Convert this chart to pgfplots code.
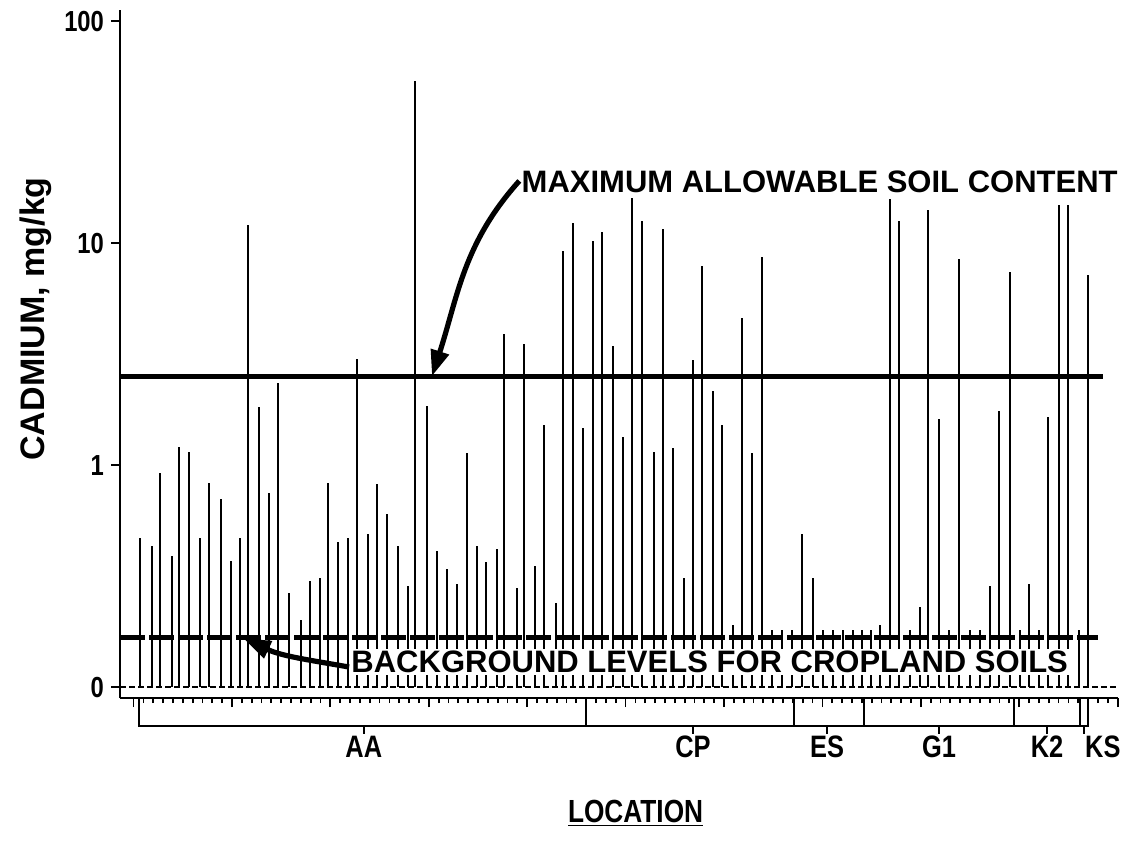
\documentclass[border=0pt]{standalone}
\usepackage{fontspec}
\setmainfont{Liberation Sans}
\newfontfamily\condensed{Liberation Sans}[FakeStretch=0.82]
\usepackage{pgfplots}
\pgfplotsset{compat=1.18}
\usepackage{pgfplotstable}
\usetikzlibrary{arrows.meta,calc}

% sample position (x) and cadmium concentration in mg/kg (v)
\pgfplotstableread{
x v
0.65 0.47
1.87 0.43
2.68 0.92
3.90 0.39
4.61 1.2
5.63 1.14
6.75 0.47
7.66 0.83
8.88 0.70
9.90 0.37
10.81 0.47
11.63 12.0
12.74 1.82
13.76 0.75
14.67 2.34
15.79 0.265
17.01 0.20
17.93 0.30
18.94 0.31
19.76 0.83
20.77 0.45
21.79 0.47
22.70 3.0
23.82 0.49
24.74 0.82
25.75 0.60
26.87 0.43
27.89 0.285
28.60 54
29.82 1.85
30.83 0.41
31.85 0.34
32.87 0.29
33.88 1.13
34.90 0.43
35.81 0.366
36.93 0.42
37.64 3.89
38.96 0.28
39.67 3.51
40.79 0.35
41.71 1.51
42.93 0.24
43.64 9.2
44.66 12.3
45.67 1.47
46.69 10.2
47.60 11.2
48.72 3.44
49.74 1.34
50.65 15.9
51.67 12.6
52.89 1.14
53.80 11.6
54.82 1.19
55.93 0.31
56.85 2.97
57.76 7.9
58.88 2.15
59.80 1.51
60.91 0.19
61.83 4.6
62.85 1.13
63.86 8.7
64.88 0.18
65.89 0.18
66.91 0.18
67.93 0.49
69.05 0.31
70.06 0.18
71.08 0.18
72.10 0.18
73.11 0.18
74.03 0.18
74.94 0.18
75.85 0.19
76.87 15.8
77.79 12.6
78.90 0.18
79.92 0.23
80.73 14.1
81.85 1.61
82.87 0.18
83.88 8.5
85.00 0.18
86.02 0.18
87.03 0.285
87.95 1.75
89.07 7.4
90.08 0.18
91.00 0.29
92.01 0.18
92.93 1.65
94.05 14.8
94.96 14.8
96.08 0.18
96.99 7.2
}\needles

\begin{document}
\begin{tikzpicture}
\useasboundingbox (0,0) rectangle (564.5pt,421.5pt);
\begin{axis}[
  at={(60pt,72.5pt)}, anchor=south west,
  scale only axis, width=499pt, height=344pt,
  xmin=-1.38, xmax=100.04, ymin=-0.0495, ymax=3.05,
  axis x line*=bottom, axis y line*=left,
  axis line style={line width=1pt},
  xtick={0,10,...,100}, minor x tick num=9, xticklabels={},
  ytick={0,1,2,3}, yticklabels={0,1,10,100},
  minor y tick num=0,
  tick align=outside, major tick length=4.5pt, minor tick length=2.5pt,
  every tick/.style={black, line width=0.9pt},
  yticklabel style={font=\condensed\bfseries\fontsize{14.5}{14.5}\selectfont},
  clip=false,
]
% needles: log10(value)+1, so 0.1 mg/kg sits on the comb origin
\addplot[ycomb, black, line width=0.85pt] table[x=x, y expr={log10(\thisrow{v})+1}] {\needles};

% baseline (0.1 mg/kg)
\addplot[black, line width=0.8pt, dash pattern=on 3pt off 1.5pt] coordinates {(-1.38,0) (100,0)};
% maximum allowable soil content (2.5 mg/kg -> log10 = 0.398)
\addplot[black, line width=2.4pt] coordinates {(-1.38,1.398) (98.5,1.398)};
% background levels for cropland soils (0.167 mg/kg -> log10 = -0.777)
\addplot[black, line width=2.2pt, dash pattern=on 12.5pt off 2pt] coordinates {(-1.38,0.2225) (98.0,0.2225)};

% annotations
\node[anchor=west, inner sep=1pt, fill=white, font=\bfseries\fontsize{15.5}{15.5}\selectfont] at (axis cs:39.2,2.275) {MAXIMUM ALLOWABLE SOIL CONTENT};
\draw[line width=2.6pt, -{Triangle[length=13pt,width=9pt]}] (axis cs:39.2,2.28) to[out=228,in=72] (axis cs:30.32,1.40);

\node[anchor=west, inner sep=1pt, fill=white, font=\bfseries\fontsize{15.5}{15.5}\selectfont] at (axis cs:21.9,0.113) {BACKGROUND LEVELS FOR CROPLAND SOILS};
\draw[line width=2.6pt, -{Triangle[length=14pt,width=9pt]}] (axis cs:21.9,0.09) to[out=170,in=-25] (axis cs:11.1,0.221);

% location brackets
\draw[line width=1pt] (axis cs:0.55,-0.0495) -- (axis cs:0.55,-0.1757) -- (axis cs:96.99,-0.1757) -- (axis cs:96.99,-0.0495);
\draw[line width=1pt] (axis cs:45.98,-0.0495) -- (axis cs:45.98,-0.1757);
\draw[line width=1pt] (axis cs:67.11,-0.0495) -- (axis cs:67.11,-0.1757);
\draw[line width=1pt] (axis cs:74.22,-0.0495) -- (axis cs:74.22,-0.1757);
\draw[line width=1pt] (axis cs:89.47,-0.0495) -- (axis cs:89.47,-0.1757);
\draw[line width=1pt] (axis cs:96.18,-0.0495) -- (axis cs:96.18,-0.1757);
\draw[line width=1pt] (axis cs:23.4,-0.1757) -- (axis cs:23.4,-0.2117);
\draw[line width=1pt] (axis cs:56.85,-0.1757) -- (axis cs:56.85,-0.2117);
\draw[line width=1pt] (axis cs:70.47,-0.1757) -- (axis cs:70.47,-0.2117);
\draw[line width=1pt] (axis cs:81.85,-0.1757) -- (axis cs:81.85,-0.2117);
\draw[line width=1pt] (axis cs:92.83,-0.1757) -- (axis cs:92.83,-0.2117);
\draw[line width=1pt] (axis cs:96.6,-0.1757) -- (axis cs:96.6,-0.2117);
\begin{scope}[every node/.style={anchor=base, font=\condensed\bfseries\fontsize{15.5}{15.5}\selectfont}]
\node at (axis cs:23.4,-0.318) {AA};
\node at (axis cs:56.85,-0.318) {CP};
\node at (axis cs:70.47,-0.318) {ES};
\node at (axis cs:81.85,-0.318) {G1};
\node at (axis cs:92.83,-0.318) {K2};
\node at (axis cs:98.5,-0.318) {KS};
\end{scope}

% axis titles
\node[rotate=90, font=\bfseries\fontsize{17}{17}\selectfont] at ($(rel axis cs:0,0.535)+(-49pt,0)$) {CADMIUM, mg/kg};
\node[font=\condensed\bfseries\fontsize{16}{16}\selectfont] at ($(rel axis cs:0.503,0)+(0,-63pt)$) {\underline{LOCATION}};
\end{axis}
\end{tikzpicture}
\end{document}
